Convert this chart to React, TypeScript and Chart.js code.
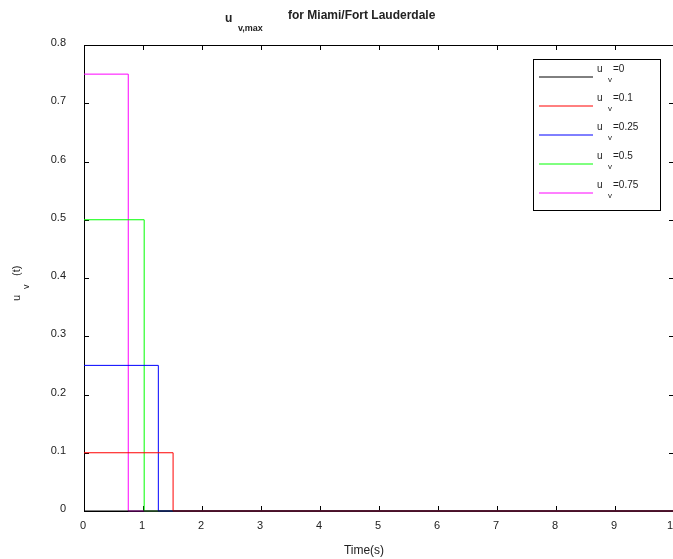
import React, { useEffect, useRef } from "react";
import { Chart, registerables } from "chart.js";

Chart.register(...registerables);

const levels = [0, 0.1, 0.25, 0.5, 0.75];
const switchTimes = [10, 1.51, 1.26, 1.02, 0.75];
const seriesColors = ["#000000", "#ff0000", "#0000ff", "#00ff00", "#ff00ff"];
const legendLabels = ["=0", "=0.1", "=0.25", "=0.5", "=0.75"];
const xTicks = [0, 1, 2, 3, 4, 5, 6, 7, 8, 9, 10];
const yTicks = [0, 0.1, 0.2, 0.3, 0.4, 0.5, 0.6, 0.7, 0.8];
const yTickLabels = ["0", "0.1", "0.2", "0.3", "0.4", "0.5", "0.6", "0.7", "0.8"];

const FONT = '"Liberation Sans", Arial, Helvetica, sans-serif';
const TEXT = "#222";

const overlay = {
  id: "overlay",
  beforeDatasetsDraw(chart: any) {
    const { ctx, chartArea: a, scales } = chart;
    const xs = scales.x, ys = scales.y;
    ctx.save();
    ctx.strokeStyle = "#000";
    ctx.lineWidth = 1;
    ctx.beginPath();
    ctx.rect(a.left + 0.5, a.top + 0.5, a.right - a.left, a.bottom - a.top);
    ctx.stroke();
    ctx.beginPath();
    const tl = 5;
    xTicks.forEach((v) => {
      const px = Math.round(xs.getPixelForValue(v)) + 0.5;
      ctx.moveTo(px, a.bottom);
      ctx.lineTo(px, a.bottom - tl);
      ctx.moveTo(px, a.top);
      ctx.lineTo(px, a.top + tl);
    });
    yTicks.forEach((v) => {
      const py = Math.round(ys.getPixelForValue(v)) + 0.5;
      ctx.moveTo(a.left, py);
      ctx.lineTo(a.left + tl, py);
      ctx.moveTo(a.right, py);
      ctx.lineTo(a.right - tl, py);
    });
    ctx.stroke();

    ctx.fillStyle = TEXT;
    ctx.font = `11px ${FONT}`;
    ctx.textAlign = "center";
    ctx.textBaseline = "middle";
    xTicks.forEach((v) => {
      ctx.fillText(String(v), xs.getPixelForValue(v) - 1, a.bottom + 15);
    });
    ctx.textAlign = "right";
    yTicks.forEach((v, i) => {
      ctx.fillText(yTickLabels[i], a.left - 18, ys.getPixelForValue(v) - 2);
    });
    ctx.restore();
  },
  afterDraw(chart: any) {
    const { ctx } = chart;
    ctx.save();
    ctx.fillStyle = TEXT;
    // title
    ctx.textBaseline = "alphabetic";
    ctx.textAlign = "left";
    ctx.font = `bold 12px ${FONT}`;
    ctx.fillText("u", 225, 22);
    ctx.font = `bold 9px ${FONT}`;
    ctx.fillText("v,max", 238, 31);
    ctx.font = `bold 12px ${FONT}`;
    ctx.fillText("for Miami/Fort Lauderdale", 288, 19);
    // x label
    ctx.font = `12px ${FONT}`;
    ctx.textAlign = "center";
    ctx.fillText("Time(s)", 364, 554);
    // y label
    ctx.save();
    ctx.translate(20, 301);
    ctx.rotate(-Math.PI / 2);
    ctx.textAlign = "left";
    ctx.font = `11px ${FONT}`;
    ctx.fillText("u", 0, 0);
    ctx.font = `9px ${FONT}`;
    ctx.fillText("v", 12, 9);
    ctx.font = `11px ${FONT}`;
    ctx.fillText("(t)", 25, 0);
    ctx.restore();
    // legend
    const lx = 533, ly = 59, lw = 127, lh = 151;
    ctx.fillStyle = "#fff";
    ctx.fillRect(lx, ly, lw, lh);
    ctx.strokeStyle = "#000";
    ctx.lineWidth = 1;
    ctx.strokeRect(lx + 0.5, ly + 0.5, lw, lh);
    levels.forEach((_, i) => {
      const y = 77 + i * 29;
      ctx.strokeStyle = seriesColors[i];
      ctx.beginPath();
      ctx.moveTo(539, y);
      ctx.lineTo(593, y);
      ctx.stroke();
      ctx.fillStyle = TEXT;
      ctx.textAlign = "left";
      ctx.font = `10px ${FONT}`;
      ctx.fillText("u", 597, y - 5);
      ctx.font = `8px ${FONT}`;
      ctx.fillText("v", 608, y + 5);
      ctx.font = `10px ${FONT}`;
      ctx.fillText(legendLabels[i], 613, y - 5);
    });
    ctx.restore();
  },
};

export default function App() {
  const ref = useRef<HTMLCanvasElement>(null);
  useEffect(() => {
    if (!ref.current) return;
    const datasets = levels.map((lv, i) => ({
      label: "u_v" + legendLabels[i],
      data: [
        { x: 0, y: lv },
        { x: switchTimes[i], y: 0 },
        { x: 10, y: 0 },
      ],
      borderColor: seriesColors[i],
      backgroundColor: seriesColors[i],
      borderWidth: 1,
      pointRadius: 0,
      stepped: "before" as const,
      fill: false,
      clip: 3,
    }));
    const chart = new Chart(ref.current, {
      type: "line",
      data: { datasets },
      options: {
        animation: false,
        responsive: false,
        devicePixelRatio: 1,
        layout: { padding: { top: 45, right: 26, left: 0, bottom: 0 } },
        plugins: { legend: { display: false }, tooltip: { enabled: false }, title: { display: false } },
        scales: {
          x: {
            type: "linear",
            min: 0,
            max: 10,
            grid: { display: false },
            border: { display: false },
            ticks: { display: false },
            afterFit: (s: any) => { s.height = 48; },
          },
          y: {
            type: "linear",
            min: 0,
            max: 0.8,
            grid: { display: false },
            border: { display: false },
            ticks: { display: false },
            afterFit: (s: any) => { s.width = 84; },
          },
        },
      },
      plugins: [overlay],
    });
    return () => chart.destroy();
  }, []);
  return (
    <div style={{ position: "fixed", left: 0, top: 0, width: 673, height: 559, overflow: "hidden", background: "#fff" }}>
      <canvas ref={ref} width={700} height={559} style={{ display: "block", width: 700, height: 559 }} />
    </div>
  );
}
